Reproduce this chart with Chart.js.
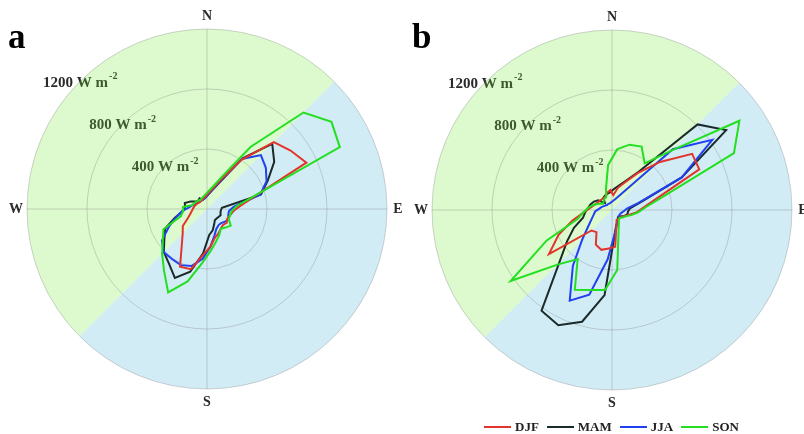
<!DOCTYPE html>
<html>
<head>
<meta charset="utf-8">
<script src="https://cdn.jsdelivr.net/npm/chart.js@4.4.0/dist/chart.umd.min.js"></script>
<style>
  body { margin: 0; background: #fff; overflow: hidden; }
  .panel { position: absolute; top: 0; width: 402px; height: 434px; }
  #legend { position: absolute; top: 419px; left: 484px; display: flex; align-items: center;
            font: bold 13px "Liberation Serif", serif; color: #222; white-space: nowrap; }
  #legend .item { display: flex; align-items: center; margin-right: 8px; }
  #legend .swatch { display: inline-block; width: 27px; height: 2px; margin-right: 4px; }
</style>
</head>
<body>
<div class="panel" style="left:0"><canvas id="chartA" width="402" height="434"></canvas></div>
<div class="panel" style="left:402px"><canvas id="chartB" width="402" height="434"></canvas></div>
<div id="legend"></div>
<script>
// direction bins (bearing of bin centre, clockwise from north)
const directions = ["5°", "15°", "25°", "35°", "45°", "55°", "65°", "75°", "85°",
  "95°", "105°", "115°", "125°", "135°", "145°", "155°", "165°", "175°",
  "185°", "195°", "205°", "215°", "225°", "235°", "245°", "255°", "265°",
  "275°", "285°", "295°", "305°", "315°", "325°", "335°", "345°", "355°"];

const seasons = ["DJF", "MAM", "JJA", "SON"];
const seasonColors = ["#e3342b", "#1b2a2a", "#2140f2", "#22e01f"];
const ringTicks = [400, 800, 1200];
const compass = ["N", "E", "S", "W"];

// panel a (W m-2)
const djfA = [107, 140, 213, 400, 630, 680, 731, 331, 220, 175, 160, 150, 160, 150, 160, 180, 200, 253,
  307, 415, 425, 293, 229, 197, 139, 114, 99, 91, 84, 77, 70, 67, 67, 70, 77, 87];
const mamA = [97, 127, 193, 413, 615, 547, 447, 373, 100, 93, 93, 100, 93, 90, 91, 113, 147, 173,
  297, 433, 507, 443, 407, 347, 307, 220, 160, 147, 153, 120, 87, 80, 87, 67, 70, 80];
const jjaA = [100, 133, 200, 407, 508, 479, 438, 367, 180, 147, 147, 160, 147, 133, 133, 147, 187, 253,
  333, 393, 413, 407, 407, 367, 280, 213, 167, 120, 100, 87, 73, 67, 67, 67, 70, 80];
const sonA = [120, 155, 240, 505, 910, 1013, 977, 315, 194, 165, 160, 160, 193, 175, 160, 193, 228, 280,
  360, 500, 613, 500, 423, 360, 320, 180, 160, 160, 100, 93, 87, 80, 75, 80, 87, 100];

// panel b (W m-2)
const djfB = [100, 153, 202, 302, 453, 652, 642, 317, 215, 167, 120, 93, 80, 73, 73, 73, 111, 245,
  257, 275, 255, 180, 193, 513, 393, 273, 190, 148, 125, 111, 103, 99, 97, 99, 120, 133];
const mamB = [140, 167, 213, 313, 807, 929, 513, 196, 120, 107, 107, 93, 73, 60, 67, 87, 107, 179,
  569, 771, 847, 819, 498, 367, 280, 200, 180, 160, 147, 133, 113, 67, 100, 107, 113, 120];
const jjaB = [60, 73, 100, 167, 573, 816, 513, 183, 100, 80, 67, 60, 60, 67, 75, 90, 116, 171,
  330, 585, 667, 455, 282, 195, 152, 127, 113, 87, 73, 60, 53, 47, 47, 47, 47, 53];
const sonB = [407, 451, 467, 380, 560, 1037, 897, 358, 228, 175, 133, 100, 87, 73, 80, 107, 167, 401,
  535, 552, 587, 399, 515, 825, 480, 240, 193, 160, 130, 100, 73, 80, 90, 93, 153, 300];

const serif = '"Liberation Serif", "Times New Roman", serif';
const gridColor = "rgba(120,120,120,0.32)";

function drawUnitLabel(ctx, value, x, y) {
  const main = value + " W m";
  const sup = "-2";
  ctx.font = "bold 15px " + serif;
  const w1 = ctx.measureText(main).width;
  ctx.font = "bold 10px " + serif;
  const w2 = ctx.measureText(sup).width;
  const x0 = x - (w1 + w2) / 2;
  ctx.fillStyle = "#2a2a2a";
  ctx.textAlign = "left";
  ctx.textBaseline = "middle";
  ctx.font = "bold 15px " + serif;
  ctx.fillText(main, x0, y + 1);
  ctx.font = "bold 10px " + serif;
  ctx.fillText(sup, x0 + w1 + 1, y - 5);
}

const polarDecor = {
  id: "polarDecor",
  beforeDraw(chart) {
    const s = chart.scales.r;
    const ctx = chart.ctx;
    const cx = s.xCenter, cy = s.yCenter, R = s.drawingArea;
    ctx.save();
    ringTicks.forEach(v => {
      const d = s.getDistanceFromCenterForValue(v);
      drawUnitLabel(ctx, v, cx - d * Math.SQRT1_2, cy - d * Math.SQRT1_2);
    });
    // north-west half and south-east half tints
    ctx.fillStyle = "rgba(115,235,55,0.25)";
    ctx.beginPath();
    ctx.moveTo(cx, cy);
    ctx.arc(cx, cy, R, 0.75 * Math.PI, 1.75 * Math.PI);
    ctx.closePath();
    ctx.fill();
    ctx.fillStyle = "rgba(75,179,219,0.25)";
    ctx.beginPath();
    ctx.moveTo(cx, cy);
    ctx.arc(cx, cy, R, -0.25 * Math.PI, 0.75 * Math.PI);
    ctx.closePath();
    ctx.fill();
    // N-S and E-W axes
    ctx.strokeStyle = gridColor;
    ctx.lineWidth = 1;
    ctx.beginPath();
    ctx.moveTo(cx, cy - R); ctx.lineTo(cx, cy + R);
    ctx.moveTo(cx - R, cy); ctx.lineTo(cx + R, cy);
    ctx.stroke();
    ctx.restore();
  },
  afterDraw(chart, args, opts) {
    const s = chart.scales.r;
    const ctx = chart.ctx;
    const cx = s.xCenter, cy = s.yCenter, R = s.drawingArea;
    ctx.save();
    ctx.fillStyle = "#2a2a2a";
    ctx.font = "bold 14px " + serif;
    ctx.textAlign = "center";
    ctx.textBaseline = "middle";
    const pos = [[cx, cy - R - 13], [cx + R + 11, cy], [cx, cy + R + 13], [cx - R - 11, cy]];
    compass.forEach((t, i) => ctx.fillText(t, pos[i][0], pos[i][1]));
    ctx.fillStyle = "#000";
    ctx.font = "bold 35px " + serif;
    ctx.textAlign = "left";
    ctx.textBaseline = "alphabetic";
    ctx.fillText(opts.letter, opts.letterX, 48);
    ctx.restore();
  }
};

function makeChart(id, series, letter, letterX, padding) {
  const order = [2, 4, 3, 1];
  new Chart(document.getElementById(id), {
    type: "radar",
    data: {
      labels: directions,
      datasets: seasons.map((name, i) => ({
        label: name,
        data: series[i],
        borderColor: seasonColors[i],
        backgroundColor: "transparent",
        borderWidth: 2,
        fill: false,
        pointRadius: 0,
        order: order[i]
      }))
    },
    options: {
      responsive: false,
      devicePixelRatio: 1,
      animation: false,
      layout: { padding: padding },
      elements: { line: { tension: 0 } },
      plugins: {
        legend: { display: false },
        tooltip: { enabled: false },
        polarDecor: { letter: letter, letterX: letterX }
      },
      scales: {
        r: {
          min: 0,
          max: 1200,
          startAngle: 5,
          ticks: { display: false, stepSize: 400 },
          grid: { circular: true, color: gridColor, lineWidth: 1 },
          angleLines: { display: false },
          pointLabels: { display: false }
        }
      }
    },
    plugins: [polarDecor]
  });
}

makeChart("chartA", [djfA, mamA, jjaA, sonA], "a", 8, { left: 27, right: 15, top: 29, bottom: 45 });
makeChart("chartB", [djfB, mamB, jjaB, sonB], "b", 10, { left: 30, right: 12, top: 30, bottom: 44 });

const legend = document.getElementById("legend");
seasons.forEach((name, i) => {
  const item = document.createElement("span");
  item.className = "item";
  const sw = document.createElement("span");
  sw.className = "swatch";
  sw.style.background = seasonColors[i];
  item.appendChild(sw);
  item.appendChild(document.createTextNode(name));
  legend.appendChild(item);
});
</script>
</body>
</html>
